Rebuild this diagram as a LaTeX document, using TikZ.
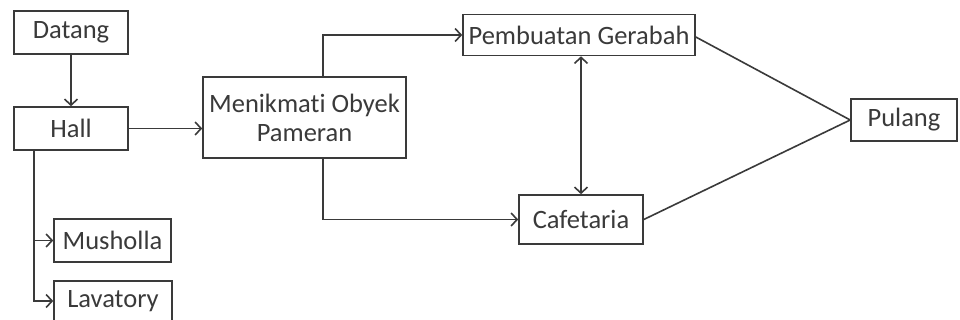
\documentclass[tikz,border=0pt]{standalone}
\usepackage{fontspec}
\setmainfont[Ligatures=NoCommon]{Carlito}
\usetikzlibrary{arrows.meta}
\definecolor{ink}{HTML}{3A3A3A}
\begin{document}
\begin{tikzpicture}[x=1pt,y=-1pt,
  box/.style={draw=ink,line width=1.6pt,text=ink,inner sep=0pt,font=\fontsize{26.5}{29}\selectfont,align=center},
  conn/.style={draw=ink,line width=1.6pt},
  tip/.style={},
  arr/.style={conn,-{Straight Barb[length=6pt,width=13pt,line width=1.6pt]}},
  darr/.style={conn,{Straight Barb[length=6pt,width=13pt,line width=1.6pt]}-{Straight Barb[length=6pt,width=13pt,line width=1.6pt]}}]
\useasboundingbox (0,0) rectangle (960,320);
\fill[white] (0,0) rectangle (960,320);
\node[box,minimum width=114pt,minimum height=43pt] (datang) at (71,32.5) {Datang};
\node[box,minimum width=114pt,minimum height=43pt] (hall) at (71,128.5) {Hall};
\node[box,minimum width=203pt,minimum height=81pt] (obyek) at (304.5,117.5) {Menikmati Obyek\\Pameran};
\node[box,minimum width=232pt,minimum height=41pt] (gerabah) at (579,35) {Pembuatan Gerabah};
\node[box,minimum width=124pt,minimum height=49pt] (cafe) at (581,219.5) {Cafetaria};
\node[box,minimum width=106pt,minimum height=42pt] (pulang) at (904,120) {Pulang};
\node[box,minimum width=117pt,minimum height=43pt] (musholla) at (112.5,240.5) {Musholla};
\node[box,minimum width=118pt,minimum height=40pt] (lavatory) at (113,301) {Lavatory};
\coordinate (hs) at ([xshift=21pt]hall.south west);
\coordinate (ot) at ([xshift=121pt]obyek.north west);
\coordinate (ob) at ([xshift=121pt]obyek.south west);
\draw[arr] (datang) -- (hall);
\draw[arr] (hall.east) -- (hall.east -| obyek.west);
\draw[arr] (hs) |- (musholla.west);
\draw[arr] (hs) |- (lavatory.west);
\draw[arr] (ot) |- (gerabah.west);
\draw[arr] (ob) |- (cafe.west);
\draw[darr] (cafe.north) -- (cafe.north |- gerabah.south);
\draw[conn] ([yshift=-2pt]gerabah.east) -- (pulang.west);
\draw[conn] (cafe.east) -- (pulang.west);
\end{tikzpicture}
\end{document}
